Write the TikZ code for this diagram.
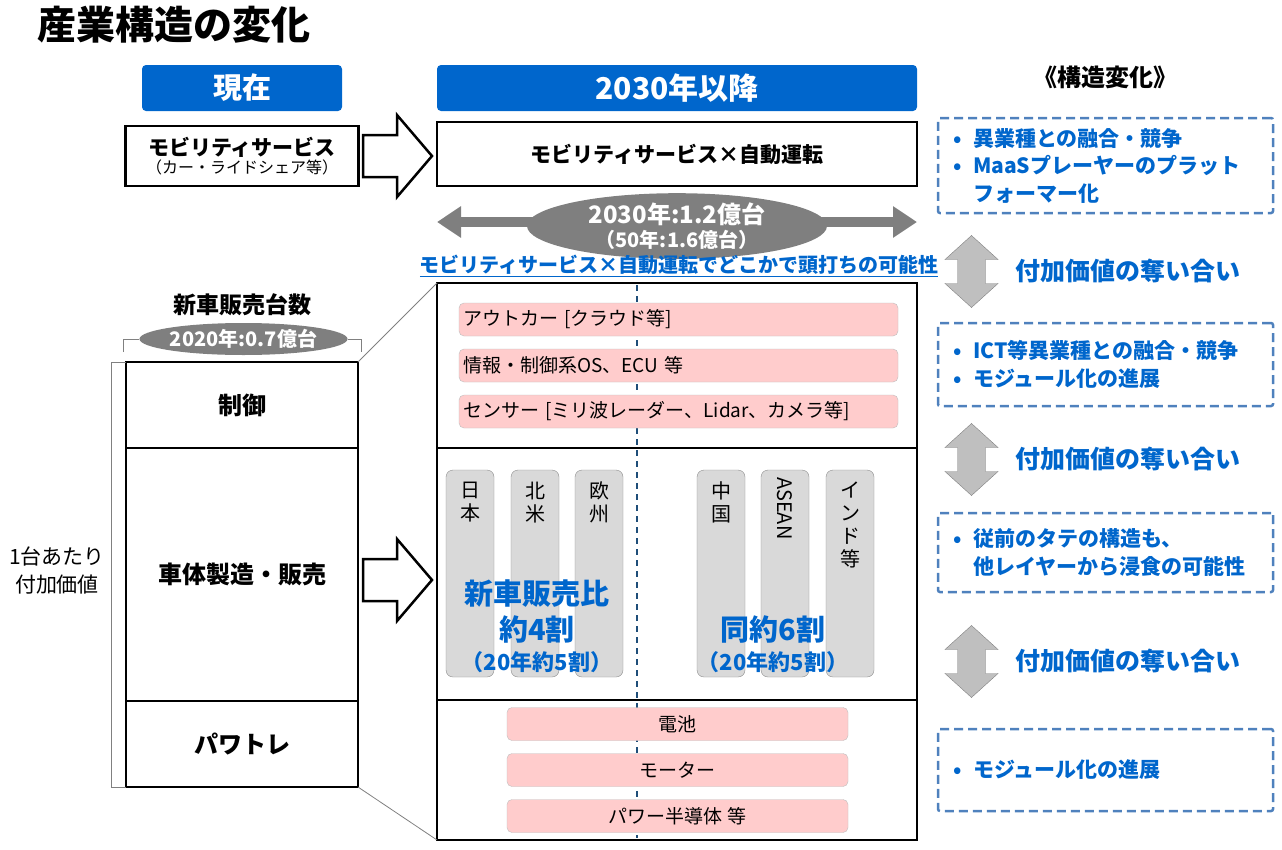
\documentclass[tikz,border=0pt]{standalone}
\usepackage{fontspec}
\setmainfont{Noto Sans CJK JP}
\usepackage{tikz}
\usetikzlibrary{arrows.meta, positioning, shapes.geometric}
\usepackage{xcolor}
\definecolor{bluHdr}{RGB}{0,102,204}
\definecolor{bluTratt}{RGB}{79,129,189}
\definecolor{bluLinea}{RGB}{31,78,121}
\definecolor{rosa}{RGB}{255,204,204}
\definecolor{grigioCol}{RGB}{217,217,217}
\definecolor{grigioEll}{RGB}{127,127,127}
\definecolor{grigioFr}{RGB}{191,191,191}
\newcommand{\fs}[2]{\fontsize{#1}{#2}\selectfont}
\newcommand{\freccione}[1]{
\draw[line width=2.5pt, fill=white, shift={(0,#1)}] (363,-21) -- (397,-21) -- (397,-41) -- (432,0) -- (397,41) -- (397,21) -- (363,21) -- cycle;
}
\newcommand{\doppia}[1]{
\draw[fill=grigioFr, draw=black!50, shift={(971.5,#1)}] (0,-36) -- (26.5,-12) -- (14,-12) -- (14,12) -- (26.5,12) -- (0,36) -- (-26.5,12) -- (-14,12) -- (-14,-12) -- (-26.5,-12) -- cycle;
}

\begin{document}
\begin{tikzpicture}[x=1pt, y=-1pt,
    hdr/.style={fill=bluHdr, rounded corners=4pt, text=white, font=\bfseries\fs{29}{32}, minimum height=46pt, inner sep=0pt},
    scatola/.style={draw, line width=2.5pt, fill=white, inner sep=0pt, outer sep=0pt, align=center},
    rosabox/.style={fill=rosa, draw=black!25, rounded corners=5pt, minimum height=33pt, font=\fs{19}{22}, inner sep=0pt},
    colonna/.style={fill=grigioCol, draw=black!45, rounded corners=7pt, minimum width=48pt, minimum height=207pt, inner sep=0pt},
    paese/.style={font=\fs{20}{23}, align=center, inner sep=0pt},
    tratteggio/.style={draw=bluTratt, line width=2.5pt, dash pattern=on 9pt off 5pt, rounded corners=2pt, minimum width=335pt, text width=305pt, inner xsep=15pt, inner ysep=0pt, align=left, text=bluHdr, font=\bfseries\fs{21}{27.5}},
    blutesto/.style={text=bluHdr, font=\bfseries\fs{25}{30}, inner sep=0pt},
    ovale/.style={ellipse, fill=grigioEll, text=white, inner sep=0pt, align=center},
    sottile/.style={draw=black!50, line width=0.8pt}]
    % parametri
    \pgfmathsetmacro{\xsx}{242}
    \pgfmathsetmacro{\xdx}{677}
    \pgfmathsetmacro{\xcentro}{637}
    % area
    \useasboundingbox (0,0) rectangle (1282,849);
    % titolo
    \node[anchor=west, inner sep=0pt, font=\bfseries\fs{39}{44}] (titolo) at (37,25) {産業構造の変化};
    % intestazioni
    \node[hdr, minimum width=200pt] (oggi) at (\xsx,88) {現在};
    \node[hdr, minimum width=480pt, font=\bfseries\fs{30}{33}] (dopo) at (\xdx,88) {2030年以降};
    \node[font=\bfseries\fs{24}{28}, inner sep=0pt] (struttura) at (1105,77) {《構造変化》};
    % servizi di mobilita
    \node[scatola, minimum width=233pt, minimum height=60pt] (mobOggi) at (\xsx,156) {{\bfseries\fs{21}{24}モビリティサービス}\\[1pt]{\fs{16}{19}（カー・ライドシェア等）}};
    \node[scatola, minimum width=480pt, minimum height=64pt, font=\bfseries\fs{21}{24}] (mobDopo) at (\xdx,154) {モビリティサービス×自動運転};
    \freccione{156}
    % vendite 2030
    \coordinate (frS) at (437,222);
    \coordinate (frD) at (917,222);
    \draw[grigioEll, line width=10pt, {Triangle[width=30pt,length=24pt]}-{Triangle[width=30pt,length=24pt]}] (frS) -- (frD);
    \node[ovale, minimum width=300pt, minimum height=58pt] (stima2030) at (\xdx,226) {{\bfseries\fs{24}{27}2030年:1.2億台}\\[3pt]{\bfseries\fs{20}{23}（50年:1.6億台）}};
    \node[text=bluHdr, font=\bfseries\fs{20}{24}, inner sep=0pt] (tetto) at (679,266) {\underline{モビリティサービス×自動運転でどこかで頭打ちの可能性}};
    % vendite 2020
    \node[font=\bfseries\fs{23}{26}, inner sep=0pt] (nuoveAuto) at (\xsx,305) {新車販売台数};
    \node[ovale, minimum width=207pt, minimum height=32pt, font=\bfseries\fs{20}{23}] (stima2020) at (243.5,339) {2020年:0.7億台};
    \coordinate (grL) at (123,352);
    \coordinate (grR) at (361,352);
    \draw[sottile] (grL) |- (stima2020.west);
    \draw[sottile] (stima2020.east) -| (grR);
    % pila di oggi
    \node[scatola, minimum width=232pt, minimum height=86pt, font=\bfseries\fs{24}{28}] (controllo) at (\xsx,405) {制御};
    \node[scatola, minimum width=232pt, minimum height=253pt, font=\bfseries\fs{24}{28}, below=0pt of controllo] (carrozzeria) {車体製造・販売};
    \node[scatola, minimum width=232pt, minimum height=86pt, font=\bfseries\fs{24}{28}, below=0pt of carrozzeria] (powertrain) {パワトレ};
    \draw[sottile] (controllo.north west) -- ++(-15,0) |- (powertrain.south west);
    \node[font=\fs{21}{28}, align=center, inner sep=0pt] (valore) at (57,570) {1台あたり\\付加価値};
    % pila del 2030
    \node[scatola, minimum width=480pt, minimum height=165pt] (sup) at (\xdx,365.5) {};
    \node[scatola, minimum width=480pt, minimum height=252pt, below=0pt of sup] (mid) {};
    \node[scatola, minimum width=480pt, minimum height=140pt, below=0pt of mid] (inf) {};
    \draw[sottile] (controllo.north east) -- (sup.north west);
    \draw[sottile] (powertrain.south east) -- (inf.south west);
    \freccione{580}
    % linea di mezzo
    \coordinate (cima) at (\xcentro,285);
    \coordinate (fondo) at (\xcentro,838);
    \draw[bluLinea, line width=1.5pt, dash pattern=on 6pt off 5pt] (cima) -- (fondo);
    % strati superiori
    \node[rosabox, text width=431pt, inner xsep=4pt, align=left] (outcar) at (678.5,319.5) {アウトカー [クラウド等]};
    \node[rosabox, text width=431pt, inner xsep=4pt, align=left] (ecu) at (678.5,365.5) {情報・制御系OS、ECU 等};
    \node[rosabox, text width=431pt, inner xsep=4pt, align=left] (sensori) at (678.5,411.5) {センサー [ミリ波レーダー、Lidar、カメラ等]};
    % mercati
    \node[colonna] (giappone) at (470,573.5) {};
    \node[colonna] (namerica) at (535,573.5) {};
    \node[colonna] (europa) at (599,573.5) {};
    \node[colonna] (cina) at (721,573.5) {};
    \node[colonna] (asean) at (785,573.5) {};
    \node[colonna] (india) at (850,573.5) {};
    \node[paese, below=12pt of giappone.north] (tGiappone) {日\\本};
    \node[paese, below=12pt of namerica.north] (tNamerica) {北\\米};
    \node[paese, below=12pt of europa.north] (tEuropa) {欧\\州};
    \node[paese, below=12pt of cina.north] (tCina) {中\\国};
    \node[paese, rotate=-90, anchor=west] (tAsean) at ([yshift=-7pt]asean.north) {ASEAN};
    \node[paese, below=12pt of india.north] (tIndia) {イ\\ン\\ド\\等};
    \node[blutesto, align=center, font=\bfseries\fs{29}{36}] (quota1) at (537,611) {新車販売比\\約4割};
    \node[blutesto, font=\bfseries\fs{22}{24}] (quota1b) at (537,662) {（20年約5割）};
    \node[blutesto, font=\bfseries\fs{29}{36}] (quota2) at (773,629) {同約6割};
    \node[blutesto, font=\bfseries\fs{22}{24}] (quota2b) at (773,662) {（20年約5割）};
    % powertrain
    \node[rosabox, minimum width=341pt] (batteria) at (677.5,724) {電池};
    \node[rosabox, minimum width=341pt] (motore) at (677.5,770) {モーター};
    \node[rosabox, minimum width=341pt] (semicond) at (677.5,816) {パワー半導体 等};
    % cambiamenti strutturali
    \node[tratteggio, minimum height=95pt] (cambio1) at (1105.5,165.5) {\makebox[20pt][l]{•}異業種との融合・競争\\\makebox[20pt][l]{•}MaaSプレーヤーのプラット\\\hspace*{20pt}フォーマー化};
    \node[tratteggio, minimum height=83pt] (cambio2) at (1105.5,364.5) {\makebox[20pt][l]{•}ICT等異業種との融合・競争\\\makebox[20pt][l]{•}モジュール化の進展};
    \node[tratteggio, minimum height=79pt] (cambio3) at (1105.5,552.5) {\makebox[20pt][l]{•}従前のタテの構造も、\\\hspace*{20pt}他レイヤーから浸食の可能性};
    \node[tratteggio, minimum height=82pt] (cambio4) at (1105.5,770) {\makebox[20pt][l]{•}モジュール化の進展};
    % lotta per il valore
    \doppia{271.5}
    \doppia{459.5}
    \doppia{661.5}
    \node[blutesto, anchor=west] (lotta1) at (1015,271) {付加価値の奪い合い};
    \node[blutesto, anchor=west] (lotta2) at (1015,459) {付加価値の奪い合い};
    \node[blutesto, anchor=west] (lotta3) at (1015,661) {付加価値の奪い合い};
\end{tikzpicture}
\end{document}
